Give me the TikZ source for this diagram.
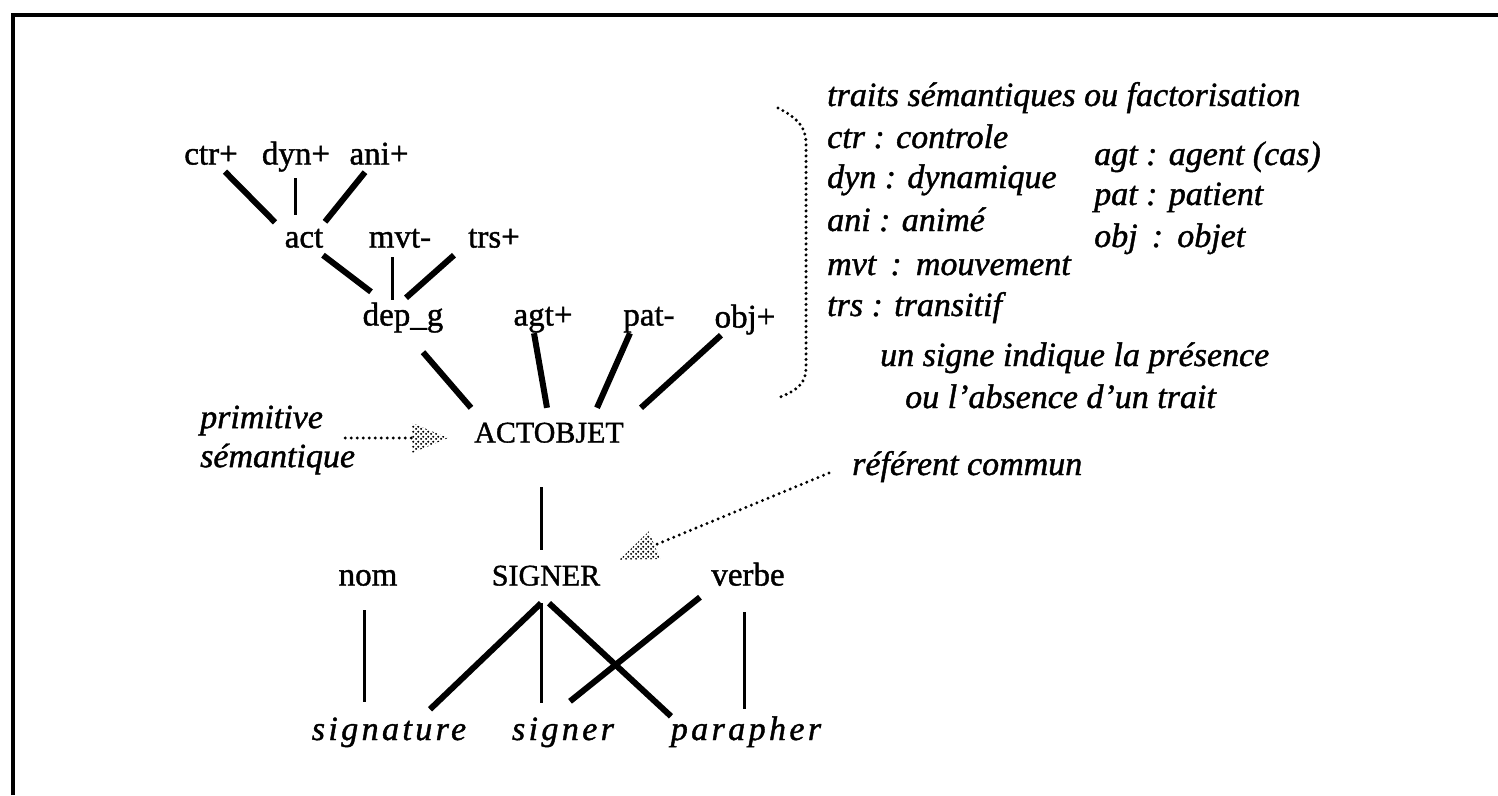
\documentclass[tikz,border=0pt]{standalone}
\usepackage{fontspec}
\setmainfont{Liberation Serif}
\usetikzlibrary{calc,patterns.meta}
\pgfdeclarepattern{
  name=stipple,
  type=uncolored,
  bottom left={\pgfpoint{0pt}{0pt}},
  top right={\pgfpoint{5pt}{5pt}},
  tile size={\pgfpoint{5pt}{5pt}},
  code={
    \pgfpathcircle{\pgfpoint{1.25pt}{1.25pt}}{1.3pt}
    \pgfpathcircle{\pgfpoint{3.75pt}{3.75pt}}{1.3pt}
    \pgfusepath{fill}
  }
}
\begin{document}
\begin{tikzpicture}[x=1pt,y=-1pt,
  lab/.style={font=\fontsize{33}{38}\selectfont\addfontfeature{FakeBold=1.2}, inner sep=0pt, text height=22pt, text depth=7pt},
  caplab/.style={font=\fontsize{30}{36}\selectfont\addfontfeature{FakeBold=1.2}, inner sep=0pt, text height=22pt, text depth=7pt},
  note/.style={font=\fontsize{34}{40}\selectfont\itshape\addfontfeature{FakeBold=1.2}, inner sep=0pt, text height=23pt, text depth=7pt, anchor=west},
  word/.style={font=\fontsize{34}{40}\selectfont\itshape\addfontfeature{LetterSpace=10,FakeBold=1.2}, inner sep=0pt, text height=23pt, text depth=7pt},
  branch/.style={line width=6pt},
  stem/.style={line width=3pt},
  dotline/.style={line width=3.3pt, line cap=round, dash pattern=on 0pt off 6pt},
  head/.style={pattern=stipple, pattern color=black}]
\useasboundingbox (0,0) rectangle (1498,795);
% frame
\draw[line width=3.5pt] (13,795) -- (13,15) -- (1498,15);
% upper tree
\node[lab] (ctr) at (211,157) {ctr+};
\node[lab] (dyn) at (296,157) {dyn+};
\node[lab] (ani) at (379,157) {ani+};
\node[lab] (act) at (304,240) {act};
\node[lab] (mvt) at (400,240) {mvt-};
\node[lab] (trs) at (494,240) {trs+};
\node[lab] (dep) at (403,318) {dep\_g};
\node[lab] (agt) at (543,318) {agt+};
\node[lab] (pat) at (649,318) {pat-};
\node[lab] (obj) at (745,320) {obj+};
\node[caplab] (actobjet) at (549,435) {ACTOBJET};
\node[lab] (nom) at (368,578) {nom};
\node[caplab] (signcap) at (546,578) {SIGNER};
\node[lab] (verbe) at (748,578) {verbe};
\node[word] (signature) at (389,732) {signature};
\node[word] (signerw) at (563,732) {signer};
\node[word] (parapher) at (746,732) {parapher};
% branches
\draw[branch] ($(ctr.south)+(14,0)$) -- ($(act.north)+(-29,-3)$);
\draw[stem] ($(dyn.south)+(-1,6.5)$) -- ($(act.north)+(-9,-10.5)$);
\draw[branch] ($(ani.south)+(-14,0.5)$) -- ($(act.north)+(21,-3.5)$);
\draw[branch] ($(act.south)+(19,0.5)$) -- ($(dep.north)+(-32,-11.5)$);
\draw[stem] ($(mvt.south)+(-8,2.5)$) -- ($(dep.north)+(-11,-3.5)$);
\draw[branch] ($(trs.south)+(-40,0.5)$) -- ($(dep.north)+(3,-5.5)$);
\draw[branch] ($(dep.south)+(20,19.5)$) -- ($(actobjet.north)+(-78,-12.5)$);
\draw[branch] ($(agt.south)+(-9,0.5)$) -- ($(actobjet.north)+(-2,-12.5)$);
\draw[branch] ($(pat.south)+(-19,0.5)$) -- ($(actobjet.north)+(48,-12.5)$);
\draw[branch] ($(obj.south)+(-24,0.5)$) -- ($(actobjet.north)+(92,-12.5)$);
\draw[stem] ($(actobjet.south)+(-8,37.5)$) -- ($(signcap.north)+(-5,-13.5)$);
% lower part
\draw[stem] ($(nom.south)+(-4,17.5)$) -- ($(signature.north)+(-25,-14.5)$);
\draw[branch] ($(signcap.south)+(-5,10.5)$) -- ($(signature.north)+(41,-7.5)$);
\draw[stem] ($(signcap.south)+(-5,10.5)$) -- ($(signerw.north)+(-22,-13.5)$);
\draw[branch] ($(signcap.south)+(3,10.5)$) -- ($(parapher.north)+(-75,-0.5)$);
\draw[branch] ($(verbe.south)+(-48,4.5)$) -- ($(signerw.north)+(7,-15.5)$);
\draw[stem] ($(verbe.south)+(-4,19.5)$) -- ($(parapher.north)+(-2,-7.5)$);
% notes
\node[note, anchor=west, align=left, text height=, text depth=, font=\fontsize{34}{39}\selectfont\itshape\addfontfeature{FakeBold=1.2}] (prim) at (200,440) {primitive\\sémantique};
\node[note] (ref) at (852,467) {référent commun};
\node[note] (tit) at (827,98) {traits sémantiques ou factorisation};
\node[note] (nctr) at (827,140) {ctr : controle};
\node[note] (ndyn) at (827,180) {dyn : dynamique};
\node[note] (nani) at (827,223) {ani : animé};
\node[note] (nmvt) at (827,267) {mvt\,\ :\,\ mouvement};
\node[note] (ntrs) at (827,308) {trs : transitif};
\node[note] (nagt) at (1094,157) {agt : agent (cas)};
\node[note] (npat) at (1094,197) {pat : patient};
\node[note] (nobj) at (1094,239) {obj\,\ :\,\ objet};
\node[note] (nsig1) at (880,358) {un signe indique la présence};
\node[note] (nsig2) at (905,400) {ou l'absence d'un trait};
% bracket
\draw[dotline, dash pattern=on 0pt off 5.5pt] (778,108) .. controls (798,118) and (806,128) .. (806,143) -- (806,368) .. controls (806,383) and (798,390) .. (778,398);
% arrow primitive -> ACTOBJET
\coordinate (a1) at ($(prim.east)+(-10,-2)$);
\coordinate (a2) at ($(actobjet.west)+(-26,3)$);
\coordinate (a3) at ($(a2)!36pt!(a1)$);
\draw[dotline] (a1) -- (a3);
\fill[head] (a2) -- ($(a3)!15pt!90:(a2)$) -- ($(a3)!15pt!-90:(a2)$) -- cycle;
% arrow referent -> SIGNER
\coordinate (b1) at ($(ref.west)+(-23,6)$);
\coordinate (b2) at ($(signcap.north east)+(19,-3.5)$);
\coordinate (b3) at ($(b2)!38pt!(b1)$);
\draw[dotline] (b1) -- (b3);
\fill[head] (b2) -- ($(b3)!15pt!90:(b2)$) -- ($(b3)!15pt!-90:(b2)$) -- cycle;
\end{tikzpicture}
\end{document}
